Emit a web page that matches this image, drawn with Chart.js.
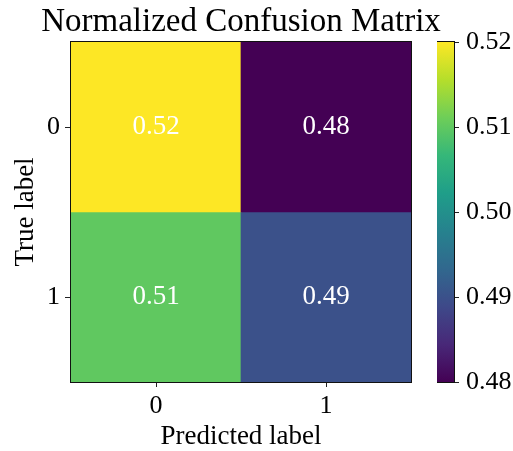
<!DOCTYPE html>
<html lang="en">
<head>
<meta charset="UTF-8" />
<title>Normalized Confusion Matrix</title>
<style>
  body { margin: 0; background: #fff; }
  #wrap { position: relative; width: 513px; height: 451px; }
  #matrix, #colorbar { position: absolute; top: 0; }
  #matrix { left: 0; }
  #colorbar { left: 437px; }
</style>
</head>
<body>
<div id="wrap">
  <canvas id="matrix" width="482" height="451"></canvas>
  <canvas id="colorbar" width="76" height="451"></canvas>
</div>
<script src="https://cdn.jsdelivr.net/npm/chart.js@4/dist/chart.umd.min.js"></script>
<script>
// data
var predictedLabels = ["0", "1"];
var trueLabels = ["0", "1"];
var rowTrue0 = [0.52, 0.48];
var rowTrue1 = [0.51, 0.49];
var colorbarMin = 0.48;
var colorbarMax = 0.52;
var colorbarTicks = [0.48, 0.49, 0.50, 0.51, 0.52];

// viridis, 10 samples
var viridis = ["#440154", "#482878", "#3e4989", "#31688e", "#26828e",
               "#1f9e89", "#35b779", "#6ece58", "#b5de2b", "#fde725"];

function hexToRgb(h) {
  return [parseInt(h.substr(1, 2), 16), parseInt(h.substr(3, 2), 16), parseInt(h.substr(5, 2), 16)];
}

function valueColor(v) {
  var t = (v - colorbarMin) / (colorbarMax - colorbarMin);
  t = Math.max(0, Math.min(1, t));
  var pos = t * (viridis.length - 1);
  var i = Math.min(Math.floor(pos), viridis.length - 2);
  var f = pos - i;
  var a = hexToRgb(viridis[i]), b = hexToRgb(viridis[i + 1]);
  var c = a.map(function (x, k) { return Math.round(x + (b[k] - x) * f); });
  return "rgb(" + c.join(",") + ")";
}

Chart.defaults.font.family = '"Liberation Serif", "Times New Roman", serif';
Chart.defaults.color = "#000";

var frame = {
  id: "frame",
  afterDraw: function (chart) {
    var a = chart.chartArea, ctx = chart.ctx;
    ctx.save();
    ctx.strokeStyle = "#111";
    ctx.lineWidth = 1;
    ctx.strokeRect(a.left - 0.5, a.top - 0.5, a.right - a.left + 1, a.bottom - a.top + 1);
    ctx.restore();
  }
};

var cellText = {
  id: "cellText",
  afterDatasetsDraw: function (chart) {
    var ctx = chart.ctx, xs = chart.scales.x, ys = chart.scales.y;
    ctx.save();
    ctx.font = '27px "Liberation Serif", serif';
    ctx.fillStyle = "#fff";
    ctx.textAlign = "center";
    ctx.textBaseline = "middle";
    rows.forEach(function (row, r) {
      row.forEach(function (v, c) {
        ctx.fillText(v.toFixed(2), xs.getPixelForValue(c), ys.getPixelForValue(r));
      });
    });
    ctx.restore();
  }
};

var rows = [rowTrue0, rowTrue1];

var datasets = rows.map(function (row, r) {
  return {
    data: row.map(function () { return [r - 0.5, r + 0.5]; }),
    backgroundColor: row.map(valueColor),
    borderWidth: 0,
    grouped: false,
    barPercentage: 1,
    categoryPercentage: 1
  };
});

var tickGrid = function (len) {
  return { drawOnChartArea: false, drawTicks: true, tickLength: len, tickColor: "#222", tickWidth: 1 };
};

new Chart(document.getElementById("matrix"), {
  type: "bar",
  data: { labels: predictedLabels, datasets: datasets },
  options: {
    responsive: false,
    animation: false,
    devicePixelRatio: 1,
    layout: { padding: 0 },
    plugins: {
      legend: { display: false },
      tooltip: { enabled: false },
      title: {
        display: true,
        text: "Normalized Confusion Matrix",
        color: "#000",
        font: { size: 33, weight: "normal" },
        padding: { top: 2.4, bottom: 0 }
      }
    },
    scales: {
      x: {
        type: "category",
        offset: true,
        grid: Object.assign(tickGrid(5), { offset: false }),
        border: { display: false },
        ticks: { font: { size: 26 }, padding: 4, maxRotation: 0 },
        title: { display: true, text: "Predicted label", font: { size: 27 }, padding: { top: 0, bottom: -2 } },
        afterFit: function (s) { s.height = 69; }
      },
      y: {
        type: "linear",
        reverse: true,
        min: -0.5,
        max: 1.5,
        afterBuildTicks: function (s) {
          s.ticks = trueLabels.map(function (l, i) { return { value: i }; });
        },
        grid: tickGrid(6),
        border: { display: false },
        ticks: {
          font: { size: 26 },
          padding: 5,
          callback: function (v) { return trueLabels[v]; }
        },
        title: { display: true, text: "True label", font: { size: 27 }, padding: { top: 10, bottom: 0 } },
        afterFit: function (s) { s.width = 71; }
      },
      pad: {
        type: "linear",
        position: "right",
        grid: { display: false },
        border: { display: false },
        ticks: { display: false },
        afterFit: function (s) { s.width = 71; }
      }
    }
  },
  plugins: [cellText, frame]
});

// colorbar
new Chart(document.getElementById("colorbar"), {
  type: "bar",
  data: {
    labels: ["cb"],
    datasets: [{
      data: [[colorbarMin, colorbarMax]],
      borderWidth: 0,
      barPercentage: 1,
      categoryPercentage: 1,
      backgroundColor: function (ctx) {
        var area = ctx.chart.chartArea;
        if (!area) return viridis[0];
        var g = ctx.chart.ctx.createLinearGradient(0, area.bottom, 0, area.top);
        viridis.forEach(function (c, i) { g.addColorStop(i / (viridis.length - 1), c); });
        return g;
      }
    }]
  },
  options: {
    responsive: false,
    animation: false,
    devicePixelRatio: 1,
    layout: { padding: { top: 42, bottom: 69, left: 0, right: 0 } },
    plugins: { legend: { display: false }, tooltip: { enabled: false } },
    scales: {
      x: { display: false },
      y: {
        position: "right",
        min: colorbarMin,
        max: colorbarMax,
        afterBuildTicks: function (s) {
          s.ticks = colorbarTicks.map(function (v) { return { value: v }; });
        },
        grid: tickGrid(5),
        border: { display: false },
        ticks: {
          font: { size: 26 },
          padding: 7,
          callback: function (v) { return v.toFixed(2); }
        },
        afterFit: function (s) { s.width = 59; }
      }
    }
  },
  plugins: [frame]
});
</script>
</body>
</html>
